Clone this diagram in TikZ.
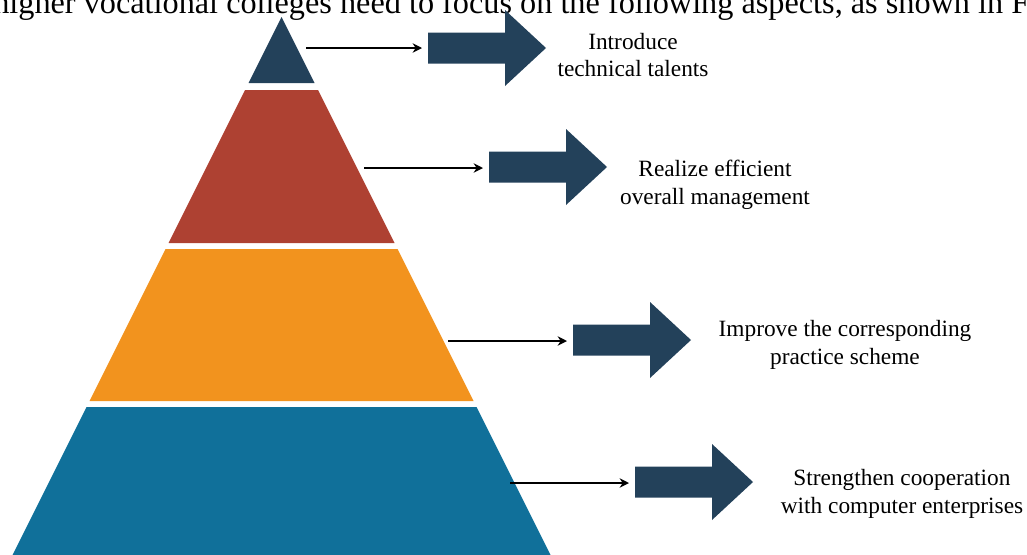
\documentclass[tikz,border=0pt]{standalone}
\usepackage{fontspec}
\setmainfont{Liberation Serif}
\usetikzlibrary{arrows.meta}
\definecolor{navy}{RGB}{35,65,90}
\definecolor{brick}{RGB}{174,65,50}
\definecolor{amber}{RGB}{242,147,30}
\definecolor{teal}{RGB}{16,112,154}
\tikzset{
  x=0.75pt, y=-0.75pt,
  conn/.style={line width=1.1pt, -{Stealth[length=7pt,width=7pt]}},
  label/.style={align=center, font=\fontsize{17.5}{20.6}\selectfont, inner sep=0pt},
  bigarrow/.pic={\fill[navy] (0,-15.5) -- (77,-15.5) -- (77,-38) -- (118,0) -- (77,38) -- (77,15.5) -- (0,15.5) -- cycle;}
}
\begin{document}
\begin{tikzpicture}
\useasboundingbox (0,0) rectangle (1027,554);
\clip (0,0) rectangle (1027,554);
% title line (cut at top, as in the reference)
\node[anchor=base west, inner sep=0pt, font=\fontsize{24.2}{28}\selectfont] (title) at (-7,13) {higher vocational colleges need to focus on the following aspects, as shown in Fi};
% pyramid
\fill[navy]  (281.5,17) -- (314.5,83) -- (248.5,83) -- cycle;
\fill[brick] (245,90) -- (318,90) -- (394.5,243) -- (168.5,243) -- cycle;
\fill[amber] (165.5,249) -- (397.5,249) -- (473.5,401) -- (89.5,401) -- cycle;
\fill[teal]  (86.5,407) -- (476.5,407) -- (555,564) -- (8,564) -- cycle;
% big arrows
\pic at (428,48) {bigarrow};
\pic at (489,167) {bigarrow};
\pic at (573,340) {bigarrow};
\pic at (635,482) {bigarrow};
% connectors
\coordinate (s1) at (306,48);  \coordinate (t1) at (422,48);
\coordinate (s2) at (364,168); \coordinate (t2) at (483,168);
\coordinate (s3) at (448,341); \coordinate (t3) at (567,341);
\coordinate (s4) at (510,483); \coordinate (t4) at (629,483);
\draw[conn] (s1) -- (t1);
\draw[conn] (s2) -- (t2);
\draw[conn] (s3) -- (t3);
\draw[conn] (s4) -- (t4);
% labels
\node[label] (l1) at (633,55)  {Introduce\\technical talents};
\node[label] (l2) at (715,185) {Realize efficient\\overall management};
\node[label] (l3) at (845,345) {Improve the corresponding\\practice scheme};
\node[label] (l4) at (902,494) {Strengthen cooperation\\with computer enterprises};
\end{tikzpicture}
\end{document}
